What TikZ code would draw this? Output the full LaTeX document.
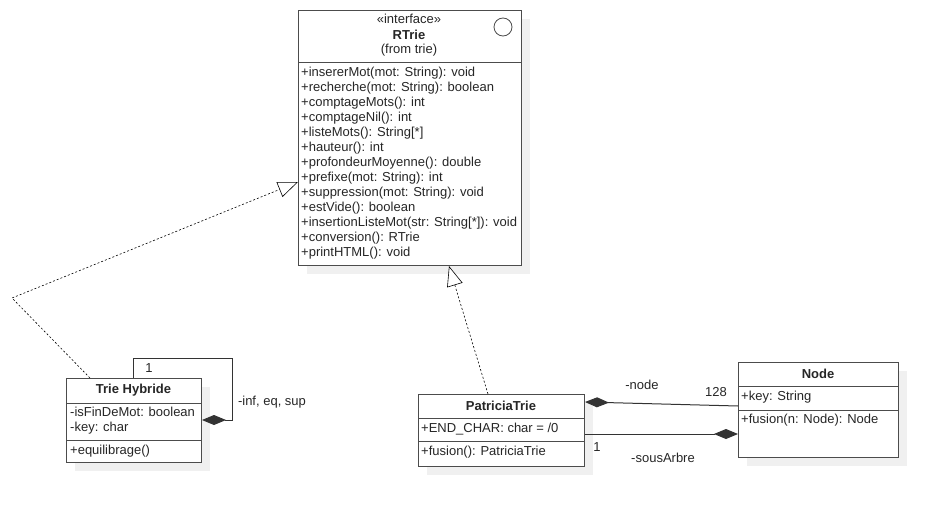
\documentclass[tikz,border=0pt]{standalone}
\usepackage{fontspec}
\setmainfont{Liberation Sans}
\usetikzlibrary{arrows.meta,shadows,calc,positioning}
\def\sepline(#1)#2;{\draw[sep line] ([yshift=-#2]#1.north west) -- ([yshift=-#2]#1.north east);}
\tikzset{
  uml schemes/.style = {
    x=1pt, y=-1pt,
    font=\fontsize{13}{15}\selectfont,
    % class frame
    cls/.style = {draw=black!70, fill=white, line width=1pt, anchor=north west,
      inner sep=0pt, general shadow={fill=black!6, shadow xshift=8pt, shadow yshift=-8pt}},
    sep line/.style = {draw=black!70, line width=1pt},
    % texts
    mb/.style  = {anchor=west, inner sep=0pt, text=black!85},
    ttl/.style = {inner sep=0pt, text=black!85, font=\fontsize{13}{15}\selectfont\bfseries},
    lbl/.style = {inner sep=0pt, text=black!85},
    % links
    realize/.style = {draw=black, line width=0.6pt, dash pattern=on 2pt off 2pt,
      -{Triangle[open, length=20pt, width=16pt, fill=white]}},
    compose/.style = {draw=black!80, line width=1pt, -{Diamond[length=24pt, width=10pt]}},
  }
}
\begin{document}
\begin{tikzpicture}[uml schemes]
\useasboundingbox (0,0) rectangle (938,506);
% classes
\node[cls, minimum width=223pt, minimum height=255pt] (rtrie) at (298,10) {};
\node[cls, minimum width=135pt, minimum height=84pt] (hybride) at (66,378) {};
\node[cls, minimum width=166pt, minimum height=72pt] (patricia) at (418,394) {};
\node[cls, minimum width=160pt, minimum height=95pt] (nodecls) at (738,362) {};
\sepline(rtrie)52pt;
\sepline(hybride)25pt; \sepline(hybride)62pt;
\sepline(patricia)24pt; \sepline(patricia)47pt;
\sepline(nodecls)24pt; \sepline(nodecls)48pt;
% RTrie
\node[lbl] (rt-st) at (409,19) {«interface»};
\node[ttl] (rt-name) at (409,35) {RTrie};
\node[lbl] (rt-from) at (409,50) {(from trie)};
\node[circle, draw=black!70, line width=0.8pt, minimum size=18pt, inner sep=0pt] (rt-circ) at (503,27) {};
\foreach \m [count=\i] in {{+insererMot(mot: String): void}, {+recherche(mot: String): boolean},
  {+comptageMots(): int}, {+comptageNil(): int}, {+listeMots(): String[*]}, {+hauteur(): int},
  {+profondeurMoyenne(): double}, {+prefixe(mot: String): int}, {+suppression(mot: String): void},
  {+estVide(): boolean}, {+insertionListeMot(str: String[*]): void}, {+conversion(): RTrie},
  {+printHTML(): void}}
  \node[mb] (rt-m\i) at (301,58+15*\i) {\m};
% Trie Hybride
\node[ttl] (th-name) at (133.5,390) {Trie Hybride};
\node[mb] (th-a1) at (70,412) {-isFinDeMot: boolean};
\node[mb] (th-a2) at (70,428) {-key: char};
\node[mb] (th-m1) at (70,451) {+equilibrage()};
% PatriciaTrie
\node[ttl] (pt-name) at (501,406) {PatriciaTrie};
\node[mb] (pt-a1) at (421,429) {+END\_CHAR: char = /0};
\node[mb] (pt-m1) at (421,452) {+fusion(): PatriciaTrie};
% Node
\node[ttl] (nd-name) at (818,374) {Node};
\node[mb] (nd-a1) at (741,397) {+key: String};
\node[mb] (nd-m1) at (741,420) {+fusion(n: Node): Node};
% links
\coordinate (bend) at (12,298);
\coordinate (loop) at (232,358);
\draw[realize] ([xshift=24pt]hybride.north west) -- (bend) -- ([yshift=-172pt]rtrie.north west);
\draw[realize] ([xshift=70pt]patricia.north west) -- ([xshift=151pt]rtrie.south west);
\draw[compose] ([xshift=67pt]hybride.north west) |- (loop) |- ([yshift=-42pt]hybride.north east);
\draw[compose] ([yshift=-44pt]nodecls.north west) -- ([yshift=-8pt]patricia.north east);
\draw[compose] ([yshift=-40pt]patricia.north east) -- ([yshift=-72pt]nodecls.north west);
\node[lbl] (l-one) at (149,368) {1};
\node[lbl] (l-kids) at (272,402) {-inf, eq, sup};
\node[lbl] (l-node) at (642,385) {-node};
\node[lbl] (l-max) at (716,392) {128};
\node[lbl] (l-one2) at (597,447) {1};
\node[lbl] (l-sub) at (663,458) {-sousArbre};
\end{tikzpicture}
\end{document}
